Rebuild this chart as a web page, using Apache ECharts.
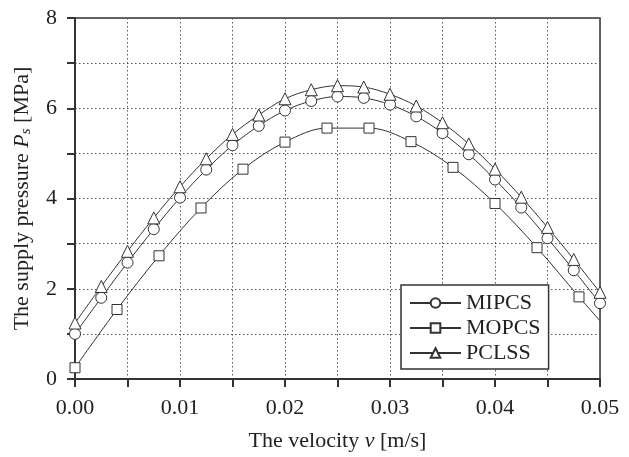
<!DOCTYPE html>
<html>
<head>
<meta charset="utf-8">
<script src="https://cdn.jsdelivr.net/npm/echarts@6/dist/echarts.min.js"></script>
<style>html,body{margin:0;padding:0;background:#fff}#c{width:629px;height:457px}</style>
</head>
<body>
<div id="c"></div>
<script>
// Data
var xFine = [0, 0.0025, 0.005, 0.0075, 0.01, 0.0125, 0.015, 0.0175, 0.02, 0.0225, 0.025, 0.0275, 0.03, 0.0325, 0.035, 0.0375, 0.04, 0.0425, 0.045, 0.0475, 0.05];
var mipcs = [1.00, 1.80, 2.58, 3.32, 4.02, 4.64, 5.18, 5.61, 5.95, 6.16, 6.26, 6.23, 6.08, 5.82, 5.45, 4.98, 4.42, 3.80, 3.12, 2.41, 1.68];
var pclss = [1.24, 2.05, 2.83, 3.57, 4.26, 4.88, 5.42, 5.85, 6.21, 6.41, 6.50, 6.47, 6.31, 6.05, 5.68, 5.21, 4.65, 4.03, 3.36, 2.65, 1.92];
var xCoarse = [0, 0.004, 0.008, 0.012, 0.016, 0.02, 0.024, 0.028, 0.032, 0.036, 0.04, 0.044, 0.048, 0.05];
var mopcs = [0.25, 1.54, 2.73, 3.79, 4.65, 5.25, 5.56, 5.56, 5.26, 4.69, 3.89, 2.91, 1.82, 1.29];
var seriesNames = ['MIPCS', 'MOPCS', 'PCLSS'];
var xTicks = ['0.00', '0.01', '0.02', '0.03', '0.04', '0.05'];
var yTicks = ['0', '2', '4', '6', '8'];

function pairs(xs, ys, noMarkerLastIdx) {
  return xs.map(function (x, i) {
    var item = { value: [x, ys[i]] };
    if (i === noMarkerLastIdx) { item.symbol = 'none'; }
    return item;
  });
}

var FONT = "'Liberation Serif', 'Times New Roman', serif";
var INK = '#333';
var TXT = '#222';
var chart = echarts.init(document.getElementById('c'));
var markerStyle = { color: '#fff', borderColor: INK, borderWidth: 1 };
var lineStyle = { color: INK, width: 1 };

chart.setOption({
  animation: false,
  backgroundColor: '#fff',
  grid: { left: 75, right: 29, top: 18, bottom: 72, show: true, borderColor: INK, borderWidth: 1.5, backgroundColor: 'transparent' },
  legend: {
    data: seriesNames,
    orient: 'vertical',
    left: 401, top: 285,
    backgroundColor: '#fff',
    borderColor: INK, borderWidth: 1.5,
    padding: [7, 8, 5, 8],
    itemGap: 3,
    itemWidth: 51, itemHeight: 12,
    textStyle: { fontFamily: FONT, fontSize: 22, color: TXT, lineHeight: 22 }
  },
  xAxis: {
    type: 'value', min: 0, max: 0.05, interval: 0.005,
    name: 'The velocity {i|v} [m/s]',
    nameLocation: 'middle', nameGap: 51,
    nameTextStyle: { fontFamily: FONT, fontSize: 22, color: TXT,
      rich: { i: { fontFamily: FONT, fontSize: 22, fontStyle: 'italic', color: TXT } } },
    axisLine: { show: true, onZero: false, lineStyle: { color: INK, width: 2 } },
    axisTick: { show: true, inside: false, length: 8, lineStyle: { color: INK, width: 2 } },
    axisLabel: {
      margin: 18, fontFamily: FONT, fontSize: 22, color: TXT, showMaxLabel: true,
      formatter: function (v) {
        var k = Math.round(v * 200);
        return k % 2 === 0 ? xTicks[k / 2] : '';
      }
    },
    splitLine: { show: true, lineStyle: { color: '#555', type: [1.5, 2.5], width: 1 } }
  },
  yAxis: {
    type: 'value', min: 0, max: 8, interval: 1,
    name: 'The supply pressure {i|P}{sub|s} [MPa]',
    nameLocation: 'middle', nameGap: 41,
    nameTextStyle: { fontFamily: FONT, fontSize: 22, color: TXT,
      rich: {
        i: { fontFamily: FONT, fontSize: 22, fontStyle: 'italic', color: TXT },
        sub: { fontFamily: FONT, fontSize: 15, fontStyle: 'italic', color: TXT, padding: [8, 0, 0, 0] }
      } },
    axisLine: { show: true, onZero: false, lineStyle: { color: INK, width: 2 } },
    axisTick: { show: true, inside: false, length: 8, lineStyle: { color: INK, width: 2 } },
    axisLabel: {
      margin: 18, fontFamily: FONT, fontSize: 22, color: TXT,
      formatter: function (v) {
        var k = Math.round(v);
        return k % 2 === 0 ? yTicks[k / 2] : '';
      }
    },
    splitLine: { show: true, lineStyle: { color: '#555', type: [1.5, 2.5], width: 1 } }
  },
  series: [
    { name: seriesNames[0], type: 'line', smooth: 0.35, data: pairs(xFine, mipcs, -1),
      symbol: 'circle', symbolSize: 11, itemStyle: markerStyle, lineStyle: lineStyle, z: 3 },
    { name: seriesNames[1], type: 'line', smooth: 0.35, data: pairs(xCoarse, mopcs, xCoarse.length - 1),
      symbol: 'rect', symbolSize: 10, itemStyle: markerStyle, lineStyle: lineStyle, z: 3 },
    { name: seriesNames[2], type: 'line', smooth: 0.35, data: pairs(xFine, pclss, -1),
      symbol: 'triangle', symbolSize: 12, itemStyle: markerStyle, lineStyle: lineStyle, z: 3 }
  ]
});
</script>
</body>
</html>
